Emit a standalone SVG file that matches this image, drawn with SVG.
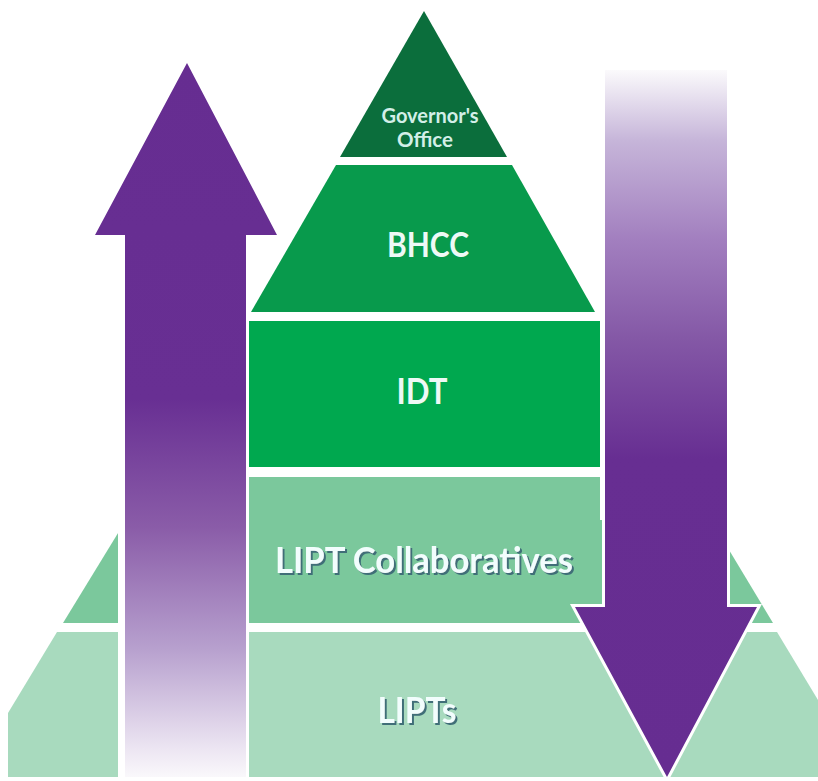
<svg xmlns="http://www.w3.org/2000/svg" width="818" height="781" viewBox="0 0 818 781">
  <defs>
    <linearGradient id="upGrad" x1="0" y1="63" x2="0" y2="777" gradientUnits="userSpaceOnUse">
      <stop offset="0" stop-color="#662d91"/>
      <stop offset="0.47" stop-color="#682f93"/>
      <stop offset="0.65" stop-color="#8a5ca8"/>
      <stop offset="0.82" stop-color="#b7a0ce"/>
      <stop offset="0.96" stop-color="#ece5f2"/>
      <stop offset="1" stop-color="#faf8fb"/>
    </linearGradient>
    <linearGradient id="downGrad" x1="0" y1="70" x2="0" y2="777" gradientUnits="userSpaceOnUse">
      <stop offset="0" stop-color="#fbfafc"/>
      <stop offset="0.1" stop-color="#c6b5d9"/>
      <stop offset="0.24" stop-color="#a27fbf"/>
      <stop offset="0.38" stop-color="#8458a6"/>
      <stop offset="0.55" stop-color="#672e92"/>
      <stop offset="1" stop-color="#662d91"/>
    </linearGradient>
    <filter id="txtShadow" x="-10%" y="-20%" width="120%" height="150%">
      <feOffset in="SourceAlpha" dx="2" dy="2" result="off"/>
      <feFlood flood-color="#3f6e78"/>
      <feComposite in2="off" operator="in" result="sh"/>
      <feMerge>
        <feMergeNode in="sh"/>
        <feMergeNode in="SourceGraphic"/>
      </feMerge>
    </filter>
    <style>
      .lbl { font-family: Lato, "Open Sans", "Liberation Sans", sans-serif; font-weight: 700; text-anchor: middle; }
      .light { fill: #eef9f6; }
      .front { fill: #f2fdfd; filter: url(#txtShadow); }
      .outline { fill: #ffffff; stroke: #ffffff; stroke-width: 6; stroke-linejoin: miter; }
    </style>
  </defs>
  <rect x="0" y="0" width="818" height="781" fill="#ffffff"/>

  <g id="lipts">
    <polygon points="57,632 777,632 818,700 818,777 8,777 8,713" fill="#a8dabe"/>
    <text class="lbl front" x="417" y="723" font-size="36" textLength="79" lengthAdjust="spacingAndGlyphs">LIPTs</text>
  </g>

  <g id="lipt-collaboratives">
    <polygon points="126,520 711,520 773,623 63,623" fill="#7bc89c"/>
    <rect x="248" y="477" width="352" height="146" fill="#7bc89c"/>
    <text class="lbl front" x="424" y="573" font-size="36" textLength="298" lengthAdjust="spacingAndGlyphs">LIPT Collaboratives</text>
  </g>

  <g id="idt">
    <rect x="248" y="321" width="352" height="146" fill="#00a84f"/>
    <text class="lbl light" x="422" y="404" font-size="37" textLength="51" lengthAdjust="spacingAndGlyphs">IDT</text>
  </g>

  <g id="bhcc">
    <polygon points="336,165 512,165 595,312 251,312" fill="#089a4c"/>
    <text class="lbl light" x="428" y="257" font-size="35" textLength="82" lengthAdjust="spacingAndGlyphs">BHCC</text>
  </g>

  <g id="governors-office">
    <polygon points="424,11 507,157 340,157" fill="#0b6e3c"/>
    <text class="lbl" fill="#d3efe8" x="430" y="123" font-size="21" textLength="97" lengthAdjust="spacingAndGlyphs">Governor's</text>
    <text class="lbl" fill="#d3efe8" x="425" y="147" font-size="21" textLength="56" lengthAdjust="spacingAndGlyphs">Office</text>
  </g>

  <g id="connectors">
    <g id="arrow-up">
      <rect x="118" y="235" width="10" height="542" fill="#ffffff"/>
      <polygon class="outline" points="187,63 277,235 246,235 246,777 125,777 125,235 95,235"/>
      <polygon points="187,63 277,235 246,235 246,777 125,777 125,235 95,235" fill="url(#upGrad)"/>
    </g>
    <g id="arrow-down">
      <polygon class="outline" points="605,70 727,70 727,607 757,607 667,777 575,607 605,607"/>
      <polygon points="605,70 727,70 727,607 757,607 667,777 575,607 605,607" fill="url(#downGrad)"/>
    </g>
  </g>
</svg>
